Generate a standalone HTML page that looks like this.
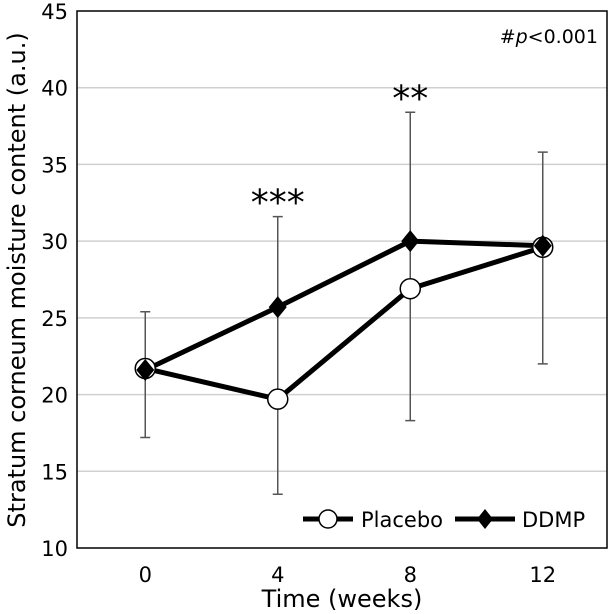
<!DOCTYPE html>
<html><head><meta charset="utf-8"><style>
body{margin:0;background:#fff}
svg{display:block;font-family:"DejaVu Sans","Liberation Sans",sans-serif}
</style></head><body>
<svg id="chart" width="611" height="614"></svg>
<script>
const categories=["0","4","8","12"];
const placebo=[21.7,19.7,26.9,29.6];
const ddmp=[21.6,25.7,30.0,29.7];
const placeboLow=[17.2,13.5,18.3,22.0];
const ddmpHigh=[25.4,31.6,38.4,35.8];
const yTicks=[10,15,20,25,30,35,40,45];
const stars=["","***","**",""];
const NS="http://www.w3.org/2000/svg";
const svg=document.getElementById('chart');
const L=77,R=607,T=11,B=548;
const y=v=>B-(v-10)/35*(B-T);
const x=i=>L+(i+0.5)*(R-L)/categories.length+2;
function mk(t,a,txt){const e=document.createElementNS(NS,t);for(const k in a)e.setAttribute(k,a[k]);if(txt!==undefined)e.textContent=txt;svg.appendChild(e);return e;}
yTicks.forEach(v=>{
 if(v>10&&v<45){const g=mk('line',{x1:L,x2:R,y1:y(v),y2:y(v),stroke:'#d0d0d0','stroke-width':1.5});
 
 }
 const t=mk('text',{x:L-9,y:y(v)+8,'text-anchor':'end','font-size':21,fill:'#000'},v);
 
 
});
categories.forEach((c,i)=>{
 const t=mk('text',{x:x(i),y:B+34,'text-anchor':'middle','font-size':21},c);
 
 
});
categories.forEach((c,i)=>{
 const lo=y(placeboLow[i]),hi=y(ddmpHigh[i]);
 const e=mk('path',{d:`M${x(i)},${lo}V${hi}M${x(i)-5},${lo}h10M${x(i)-5},${hi}h10`,stroke:'#555','stroke-width':1.5,fill:'none'});
 
 
 if(stars[i]){const s=mk('text',{x:x(i),y:hi-2,'text-anchor':'middle','font-size':36},stars[i]);
 
 }
});
const lp=mk('polyline',{points:placebo.map((v,i)=>x(i)+','+y(v)).join(' '),fill:'none',stroke:'#000','stroke-width':5,'stroke-linejoin':'round'});


const ld=mk('polyline',{points:ddmp.map((v,i)=>x(i)+','+y(v)).join(' '),fill:'none',stroke:'#000','stroke-width':5,'stroke-linejoin':'round'});


placebo.forEach((v,i)=>{
 const c=mk('circle',{cx:x(i),cy:y(v),r:10,fill:'#fff',stroke:'#000','stroke-width':1.5});
 
 
});
ddmp.forEach((v,i)=>{
 const X=x(i),Y=y(v);
 const d=mk('polygon',{points:`${X},${Y-11} ${X+9},${Y} ${X},${Y+11} ${X-9},${Y}`,fill:'#000'});
 
 
});
const ax=mk('rect',{x:L,y:T,width:R-L,height:B-T,fill:'none',stroke:'#000','stroke-width':1.5});


</script>
<svg style="position:absolute;left:0;top:0" width="611" height="614">
<g font-family="DejaVu Sans, Liberation Sans, sans-serif">
<text x="598" y="43" text-anchor="end" font-size="19">#<tspan font-style="italic">p</tspan>&lt;0.001</text>
<g>
<line x1="303" y1="519" x2="353" y2="519" stroke="#000" stroke-width="5"/>
<circle cx="328" cy="519" r="9" fill="#fff" stroke="#000" stroke-width="1.5"/>
<text x="361" y="527" font-size="21">Placebo</text>
<line x1="455" y1="519" x2="515" y2="519" stroke="#000" stroke-width="5"/>
<polygon points="485,509 493,519 485,529 477,519" fill="#000"/>
<text x="522" y="527" font-size="21">DDMP</text>
</g>
<text x="342" y="607" text-anchor="middle" font-size="24">Time (weeks)</text>
<text transform="translate(25,280) rotate(-90)" text-anchor="middle" font-size="24">Stratum corneum moisture content (a.u.)</text>
</g></svg>
</body></html>
